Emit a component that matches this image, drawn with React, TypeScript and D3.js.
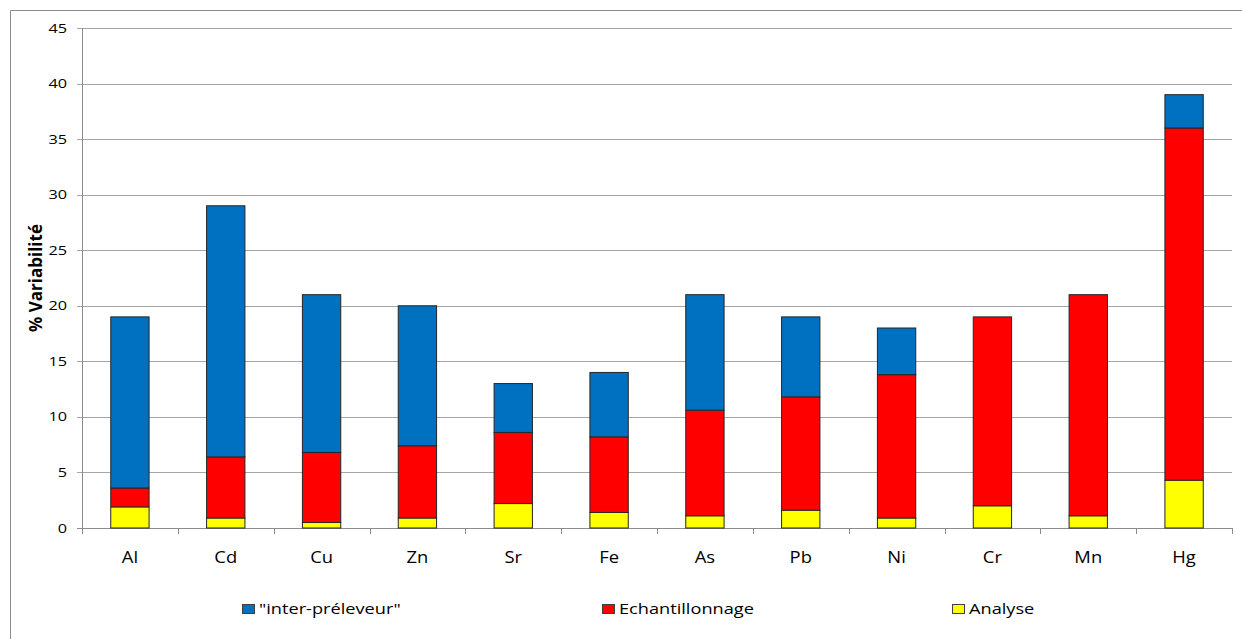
import React from "react";
import * as d3 from "d3";

const categories = ["Al", "Cd", "Cu", "Zn", "Sr", "Fe", "As", "Pb", "Ni", "Cr", "Mn", "Hg"];
const analyse = [1.9, 0.9, 0.5, 0.9, 2.2, 1.4, 1.1, 1.6, 0.9, 2.0, 1.1, 4.3];
const echantillonnage = [1.7, 5.5, 6.3, 6.5, 6.4, 6.8, 9.5, 10.2, 12.9, 17.0, 19.9, 31.7];
const interPreleveur = [15.4, 22.6, 14.2, 12.6, 4.4, 5.8, 10.4, 7.2, 4.2, 0, 0, 3.0];
const yTicks = [0, 5, 10, 15, 20, 25, 30, 35, 40, 45];
const seriesNames = ["Analyse", "Echantillonnage", "\"inter-préleveur\""];
const seriesColors = ["#FFFF00", "#FF0000", "#0070C0"];
const legendOrder = [2, 1, 0];

const W = 1242;
const H = 639;
const FONT = "'Open Sans', 'Liberation Sans', sans-serif";

function SText({ x, y, sx, children, ...rest }: any) {
  return (
    <text transform={`translate(${x},${y}) scale(${sx},1)`} x={0} y={0} {...rest}>
      {children}
    </text>
  );
}

export default function App() {
  const left = 82, right = 1232, top = 28, bottom = 528;
  const x = d3.scaleBand<string>().domain(categories).range([left, right]).paddingInner(0.6).paddingOuter(0.3);
  const y = d3.scaleLinear().domain([0, 45]).range([bottom, top]);
  const rows = categories.map((c, i) => ({ cat: c, a: analyse[i], e: echantillonnage[i], p: interPreleveur[i] }));
  const stack = d3.stack<any>().keys(["a", "e", "p"])(rows);
  const step = x.step();
  const legendX = [242, 602, 952];

  return (
    <svg width={W} height={H} style={{ position: "absolute", left: 0, top: 0, background: "#fff" }} fontFamily={FONT}>
      <rect x={0} y={0} width={W} height={H} fill="#fff" />
      <line x1={10.5} y1={10.5} x2={W} y2={10.5} stroke="#8c8c8c" strokeWidth={1} />
      <line x1={10.5} y1={10.5} x2={10.5} y2={H} stroke="#8c8c8c" strokeWidth={1} />
      {yTicks.map((t) => (
        <g key={t}>
          <line x1={left - 5} x2={right} y1={Math.round(y(t)) + 0.5} y2={Math.round(y(t)) + 0.5} stroke={t === 0 ? "#8c8c8c" : "#a6a6a6"} strokeWidth={1} />
          <SText x={67} y={y(t) + 4.6} sx={1.25} textAnchor="end" fontSize={13} fill="#000">{t}</SText>
        </g>
      ))}
      <line x1={left + 0.5} x2={left + 0.5} y1={top} y2={bottom + 6} stroke="#8c8c8c" />
      {d3.range(categories.length + 1).map((k) => (
        <line key={k} x1={Math.round(left + k * step) + 0.5} x2={Math.round(left + k * step) + 0.5} y1={bottom} y2={bottom + 6} stroke="#8c8c8c" />
      ))}
      {stack.map((s, si) => (
        <g key={si}>
          {s.map((d: any, i: number) =>
            d[1] - d[0] > 0 ? (
              <rect key={i} x={x(categories[i])!} y={y(d[1])} width={x.bandwidth()} height={y(d[0]) - y(d[1])} fill={seriesColors[si]} stroke="#262626" strokeWidth={1} />
            ) : null
          )}
        </g>
      ))}
      {categories.map((c) => (
        <SText key={c} x={x(c)! + x.bandwidth() / 2} y={563} sx={1.15} textAnchor="middle" fontSize={16} fill="#000">{c}</SText>
      ))}
      <text transform={`translate(42,278) rotate(-90)`} textAnchor="middle" fontSize={17} fontWeight="bold" fill="#000">% Variabilité</text>
      {legendOrder.map((si, k) => (
        <g key={si}>
          <rect x={legendX[k] + 0.5} y={604.5} width={12} height={9} fill={seriesColors[si]} stroke="#404040" strokeWidth={1} />
          <SText x={legendX[k] + 17} y={614} sx={1.3} fontSize={14} fill="#000">{seriesNames[si]}</SText>
        </g>
      ))}
    </svg>
  );
}
